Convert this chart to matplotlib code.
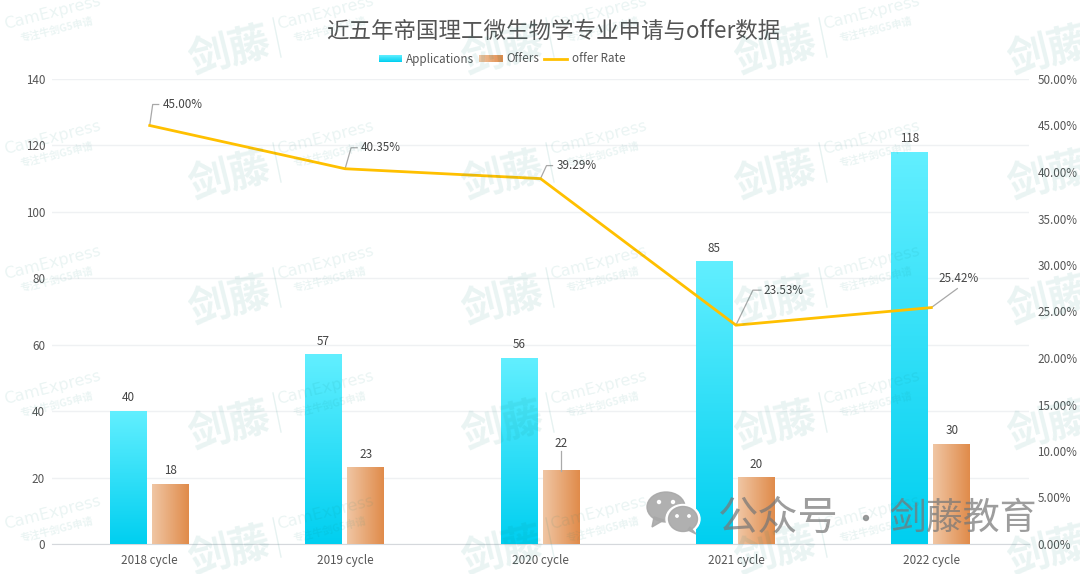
import numpy as np
import matplotlib
matplotlib.use('Agg')
import matplotlib.pyplot as plt
from matplotlib.lines import Line2D
from matplotlib.patches import Patch, Rectangle, Ellipse, Polygon
from matplotlib.colors import LinearSegmentedColormap
from matplotlib.legend_handler import HandlerBase
from matplotlib.transforms import IdentityTransform

plt.rcParams['font.family'] = ['Noto Sans CJK SC', 'DejaVu Sans']

categories = ['2018 cycle', '2019 cycle', '2020 cycle', '2021 cycle', '2022 cycle']
applications = [40, 57, 56, 85, 118]
offers = [18, 23, 22, 20, 30]
offer_rate = [45.00, 40.35, 39.29, 23.53, 25.42]
left_ticks = [0, 20, 40, 60, 80, 100, 120, 140]
right_ticks = [0, 5, 10, 15, 20, 25, 30, 35, 40, 45, 50]

W, H = 1080, 574
TXT = '#555555'
cyan = LinearSegmentedColormap.from_list('c', ['#00cff0', '#62efff'])
orange = LinearSegmentedColormap.from_list('o', ['#f0c6a4', '#e08b4a'])

fig = plt.figure(figsize=(W / 100, H / 100), dpi=100, facecolor='white')
ax = fig.add_axes([52 / W, 1 - 544 / H, 977 / W, 465 / H])
ax2 = ax.twinx()
x = np.arange(len(categories))
bw, off_a, off_o = 0.188, 0.11, 0.105

bars_a = ax.bar(x - off_a, applications, bw, color='#2fdcf5', zorder=2, label='Applications')
bars_o = ax.bar(x + off_o, offers, bw, color='#e8a877', zorder=2, label='Offers')
grad = np.linspace(0, 1, 256)
for b, v in zip(bars_a, applications):
    ax.imshow(grad[:, None], origin='lower', cmap=cyan, aspect='auto', zorder=3,
              extent=[b.get_x(), b.get_x() + bw, 0, v])
for b, v in zip(bars_o, offers):
    ax.imshow(grad[None, :], origin='lower', cmap=orange, aspect='auto', zorder=3,
              extent=[b.get_x(), b.get_x() + bw, 0, v])

ax.set_xlim(-0.5, len(categories) - 0.5)
ax.set_ylim(0, 140)
ax.set_yticks(left_ticks)
ax.set_xticks(x, categories)
ax.grid(axis='y', color='#eff1f3', lw=1)
ax.set_axisbelow(True)
for s in ['top', 'left', 'right']:
    ax.spines[s].set_visible(False)
ax.spines['bottom'].set_color('#d5d8dc')
ax.tick_params(axis='both', length=0, labelsize=8.4, labelcolor=TXT)
ax.tick_params(axis='y', pad=5)
ax.tick_params(axis='x', pad=7.5)

line, = ax2.plot(x, offer_rate, color='#ffc000', lw=2.0, zorder=5, label='offer Rate',
                 solid_joinstyle='miter')
ax2.set_ylim(0, 50)
ax2.set_yticks(right_ticks, [f'{t:.2f}%' for t in right_ticks])
for s in ax2.spines.values():
    s.set_visible(False)
ax2.tick_params(axis='y', length=0, labelsize=8.4, labelcolor=TXT, pad=6)

# bar value labels
for xi, v in zip(x - off_a, applications):
    ax.annotate(str(v), (xi, v), xytext=(0, 7), textcoords='offset pixels', ha='center',
                va='bottom', fontsize=8.4, color='#444444', zorder=6)
for i, (xi, v) in enumerate(zip(x + off_o, offers)):
    leader = categories[i] == '2020 cycle'
    ax.annotate(str(v), (xi, v), xytext=(0, 21 if leader else 7), textcoords='offset pixels',
                ha='center', va='bottom', fontsize=8.4, color='#444444', zorder=6)
    if leader:
        p = ax.transData.transform((xi, v))
        ax.add_line(Line2D([p[0], p[0]], [p[1], p[1] + 20], transform=IdentityTransform(),
                           color='#aaaaaa', lw=0.9, zorder=6))

# rate labels with leader lines (offsets in pixels from the point)
leaders = [[(0, 0), (3, 21), (9, 21)], [(0, 0), (6, 21), (12, 21)], [(0, 0), (6, 13), (12, 13)],
           [(0, 0), (17, 35), (25, 35)], [(0, 0), (26, 19), (26, 19)]]
text_off = [(13, 21), (16, 21), (16, 13), (28, 35), (7, 29)]
for xi, r, lead, t in zip(x, offer_rate, leaders, text_off):
    p = ax2.transData.transform((xi, r))
    ax2.add_line(Line2D([p[0] + a for a, _ in lead], [p[1] + b for _, b in lead],
                        transform=IdentityTransform(), color='#a8a8a8', lw=0.9, zorder=4))
    ax2.annotate(f'{r:.2f}%', (xi, r), xytext=t, textcoords='offset pixels', ha='left',
                 va='center', fontsize=8.4, color='#444444', zorder=6)

# title
fig.text(553 / W, 1 - 31 / H, '近五年帝国理工微生物学专业申请与offer数据', ha='center', va='center',
         fontsize=16.2, color='#555555', fontweight='light')


# legend
class GradHandler(HandlerBase):
    def __init__(self, cmap, vertical):
        super().__init__()
        self.cmap, self.vertical = cmap, vertical

    def create_artists(self, legend, orig, xd, yd, width, height, fontsize, trans):
        arts, n = [], 16
        for i in range(n):
            if self.vertical:
                r = Rectangle((-xd, -yd + height * i / n), width, height / n + .2)
            else:
                r = Rectangle((-xd + width * i / n, -yd), width / n + .2, height)
            r.set(facecolor=self.cmap((i + .5) / n), edgecolor='none', transform=trans)
            arts.append(r)
        return arts


ph = Patch(label='Applications')
po = Patch(label='Offers')
ax2.legend(handles=[ph, po, line], labels=['Applications', 'Offers', 'offer Rate'],
           handler_map={ph: GradHandler(cyan, True), po: GradHandler(orange, False)},
           loc='center', bbox_to_anchor=(502 / W, 1 - 59 / H), bbox_transform=fig.transFigure,
           ncol=3, frameon=False, fontsize=8.4, labelcolor=TXT, handlelength=2.0, handleheight=0.55,
           handletextpad=0.35, columnspacing=0.4, borderpad=0, borderaxespad=0)

# watermark overlay
ov = fig.add_axes([0, 0, 1, 1], zorder=20, facecolor='none')
ov.set_xlim(0, W)
ov.set_ylim(H, 0)
ov.axis('off')
wm = (0.05, 0.50, 0.47)
for tx in range(0, W, 273):
    for ty in range(35, H + 125, 125):
        if ty - 22 < H:
            ov.text(tx + 52, ty - 22, 'CamExpress', rotation=14, ha='center', va='center', fontsize=11.5,
                    color=wm, alpha=0.085, fontfamily='DejaVu Sans', clip_on=True)
            ov.text(tx + 57, ty - 5, '专注牛剑G5申请', rotation=14, ha='center', va='center', fontsize=7.4,
                    color=wm, alpha=0.085, fontweight='bold', clip_on=True)
        if ty + 17 < H:
            ov.text(tx + 230, ty + 17, '剑藤', rotation=14, ha='center', va='center', fontsize=30,
                    color=wm, alpha=0.09, fontweight='bold', clip_on=True)
        ov.plot([tx + 273, tx + 281], [ty - 17, ty + 22], color=wm, alpha=0.10, lw=1)

# account mark
gray = '#a8a8a8'
ov.add_patch(Ellipse((666, 507), 38, 30, color=gray, alpha=.9))
ov.add_patch(Polygon([[654, 517], [652, 527], [664, 520]], color=gray, alpha=.9))
ov.add_patch(Ellipse((683, 519), 34, 29, color='white'))
ov.add_patch(Ellipse((683, 519), 29, 25, color=gray, alpha=.9))
ov.add_patch(Polygon([[690, 527], [696, 534], [688, 530]], color=gray, alpha=.9))
for ex, ey, er in [(659, 502, 3), (673, 502, 3), (677, 516, 2.4), (689, 516, 2.4)]:
    ov.add_patch(Ellipse((ex, ey), er, er, color='white'))
ov.text(718, 518, '公众号', ha='left', va='center', fontsize=29, color='#777777', alpha=.72)
ov.add_patch(Ellipse((866, 518), 5, 5, color='#888888', alpha=.8))
ov.text(889, 518, '剑藤教育', ha='left', va='center', fontsize=26.6, color='#777777', alpha=.72)

fig.savefig('out.png', dpi=100)
